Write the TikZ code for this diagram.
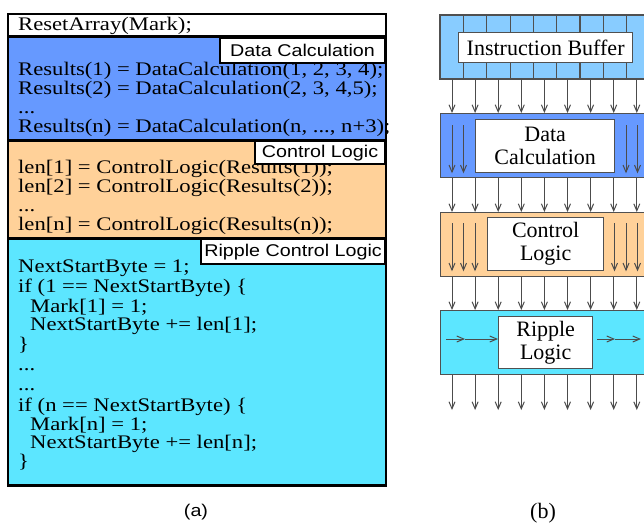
\documentclass[tikz,border=0pt]{standalone}
\usepackage{fontspec}
\setmainfont{Liberation Serif}
\newfontfamily\codefont[FakeStretch=1.18]{Liberation Serif}
\newfontfamily\labfont[FakeStretch=1.16]{Liberation Sans}
\usetikzlibrary{arrows.meta,calc}
\definecolor{cblue}{HTML}{6699FF}
\definecolor{corange}{HTML}{FFD199}
\definecolor{ccyan}{HTML}{5CE6FF}
\definecolor{clight}{HTML}{88CCFF}
\definecolor{cgray}{HTML}{505050}
\begin{document}
\begin{tikzpicture}[x=1pt,y=-1pt,
  secfill/.style={anchor=north west,inner sep=0pt,draw=none,minimum width=377.5pt},
  secline/.style={draw=black,line width=2.6pt},
  tag/.style={anchor=north east,draw=black,line width=2.2pt,fill=white,inner sep=0pt,
    font=\labfont\fontsize{17}{17}\selectfont},
  code/.style={anchor=base west,inner sep=0pt,font=\codefont\fontsize{19.2}{19.2}\selectfont},
  blk/.style={anchor=north west,draw=cgray,line width=1.3pt,inner sep=0pt,minimum width=230pt,minimum height=64pt},
  inbox/.style={anchor=north west,draw=cgray,line width=1.3pt,fill=white,inner sep=0pt,align=center,
    font=\fontsize{22}{23}\selectfont},
  arr/.style={draw=black!70,line width=1pt,-{Straight Barb[length=7pt,width=6pt]}},
  divl/.style={draw=cgray,line width=1.1pt}]
\useasboundingbox (0,0) rectangle (644,523);
\clip (0,0) rectangle (644,523);
\fill[white] (0,0) rectangle (644,523);

% ---------------- panel (a) ----------------
\node[secfill,fill=white,minimum height=22.7pt] (sw) at (8,13.8) {};
\node[secfill,fill=cblue,minimum height=103.5pt] (sb) at (8,36.5) {};
\node[secfill,fill=corange,minimum height=98pt] (so) at (8,140) {};
\node[secfill,fill=ccyan,minimum height=247pt] (sc) at (8,238) {};

\node[code] (t0) at (18,30) {ResetArray(Mark);};
\node[code] (b1) at (18,75) {Results(1) = DataCalculation(1, 2, 3, 4);};
\node[code] (b2) at (18,94) {Results(2) = DataCalculation(2, 3, 4,5);};
\node[code] (b3) at (18,113) {...};
\node[code] (b4) at (18,132) {Results(n) = DataCalculation(n, ..., n+3);};
\node[code] (o1) at (18,173) {len[1] = ControlLogic(Results(1));};
\node[code] (o2) at (18,192) {len[2] = ControlLogic(Results(2));};
\node[code] (o3) at (18,211) {...};
\node[code] (o4) at (18,230) {len[n] = ControlLogic(Results(n));};
\node[code] (c1) at (18,272) {NextStartByte = 1;};
\node[code] (c2) at (18,292) {if (1 == NextStartByte) \{};
\node[code] (c3) at (30,312) {Mark[1] = 1;};
\node[code] (c4) at (30,330.5) {NextStartByte += len[1];};
\node[code] (c5) at (18,350) {\}};
\node[code] (c6) at (18,370) {...};
\node[code] (c7) at (18,390) {...};
\node[code] (c8) at (18,411) {if (n == NextStartByte) \{};
\node[code] (c9) at (30,430) {Mark[n] = 1;};
\node[code] (c10) at (30,448.5) {NextStartByte += len[n];};
\node[code] (c11) at (18,467) {\}};

\draw[secline] (sw.north west) rectangle (sw.south east);
\draw[secline] (sb.north west) rectangle (sb.south east);
\draw[secline] (so.north west) rectangle (so.south east);
\draw[secline] (sc.north west) rectangle (sc.south east);

\node[tag,minimum width=164.5pt,minimum height=25.5pt] (tagd) at (sb.north east) {Data Calculation};
\node[tag,minimum width=129.5pt,minimum height=23pt] (tagc) at (so.north east) {Control Logic};
\node[tag,minimum width=183.5pt,minimum height=25pt] (tagr) at (sc.north east) {Ripple Control Logic};

\node[font=\labfont\fontsize{17}{17}\selectfont,anchor=base] (capa) at (196,516) {(a)};

% ---------------- panel (b) ----------------
\node[blk,fill=clight,minimum height=63pt] (buf) at (440,15) {};
\foreach \k in {0,...,8}
  \draw[divl] ($(buf.north west)+(23.5+23.3*\k,0)$) -- ($(buf.south west)+(23.5+23.3*\k,0)$);
\draw[draw=cgray,line width=1.3pt] (buf.north west) rectangle (buf.south east);
\node[inbox,minimum width=174pt,minimum height=30pt] (bufL) at (458,32) {Instruction Buffer};

\node[blk,fill=cblue] (dc) at (440,113) {};
\node[inbox,minimum width=139pt,minimum height=53pt] (dcL) at (475,119) {Data\\Calculation};

\node[blk,fill=corange] (cl) at (440,212) {};
\node[inbox,minimum width=116pt,minimum height=53pt] (clL) at (487,217) {Control\\Logic};

\node[blk,fill=ccyan] (rl) at (440,310) {};
\node[inbox,minimum width=94pt,minimum height=52pt] (rlL) at (498,316) {Ripple\\Logic};

\coordinate (outy) at (440,410);

\foreach \k in {0,...,8} {
  \draw[arr] ($(buf.south west)+(12+23.1*\k,0)$) -- ($(dc.north west)+(12+23.1*\k,0)$);
  \draw[arr] ($(dc.south west)+(12+23.1*\k,0)$) -- ($(cl.north west)+(12+23.1*\k,0)$);
  \draw[arr] ($(cl.south west)+(12+23.1*\k,0)$) -- ($(rl.north west)+(12+23.1*\k,0)$);
  \draw[arr] ($(rl.south west)+(12+23.1*\k,0)$) -- ($(outy)+(12+23.1*\k,0)$);
}
\foreach \d in {12,23.5,186,197.5}
  \draw[arr] ($(dc.north west)+(\d,12)$) -- ($(dc.south west)+(\d,-5)$);
\foreach \d in {12,23.5,35,174.5,186,197.5}
  \draw[arr] ($(cl.north west)+(\d,11)$) -- ($(cl.south west)+(\d,-6)$);

\coordinate (h1) at ($(rl.north west)+(6,29)$);
\coordinate (h2) at ($(rl.north west)+(25,29)$);
\coordinate (h4) at ($(rl.north west)+(157,29)$);
\coordinate (h5) at ($(rl.north west)+(175,29)$);
\coordinate (h6) at ($(rl.north west)+(201,29)$);
\draw[arr] (h1) -- (h2);
\draw[arr] (h2) -- (rlL.west |- h2);
\draw[arr] (h4) -- (h5);
\draw[arr] (h5) -- (h6);

\node[font=\fontsize{22}{22}\selectfont,anchor=base] (capb) at (543,518) {(b)};
\end{tikzpicture}
\end{document}
